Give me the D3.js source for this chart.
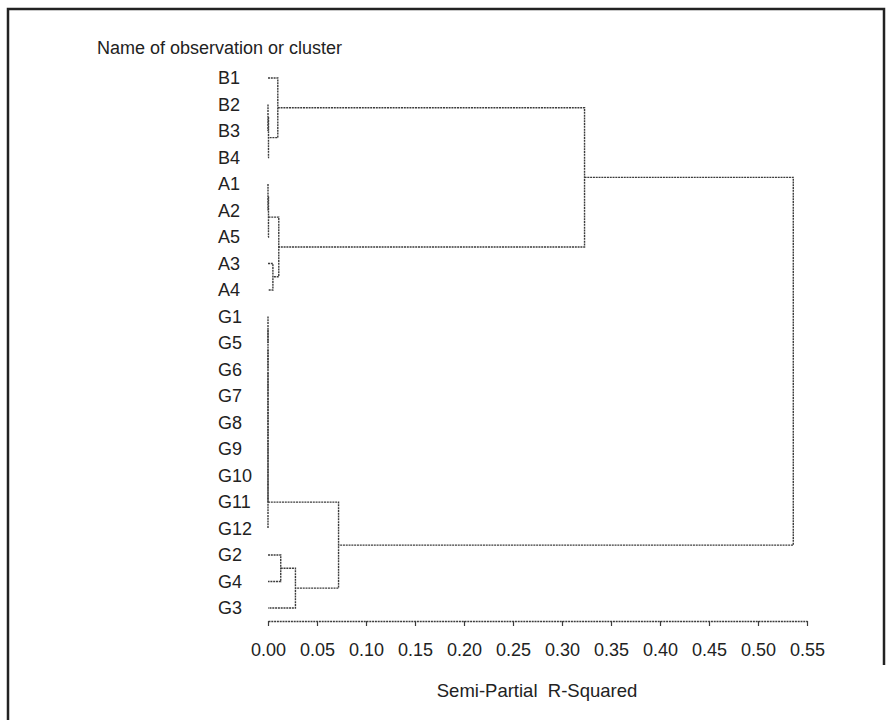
<!DOCTYPE html>
<html>
<head>
<meta charset="utf-8">
<script src="https://cdn.jsdelivr.net/npm/d3@7"></script>
<style>
  html, body { margin: 0; padding: 0; background: #fff; }
  svg { display: block; font-family: "Liberation Sans", Arial, sans-serif; }
</style>
</head>
<body>
<svg id="chart" width="891" height="720"></svg>
<script>
// leaves in the order they are drawn, top to bottom
const leaves = ["B1", "B2", "B3", "B4", "A1", "A2", "A5", "A3", "A4",
  "G1", "G5", "G6", "G7", "G8", "G9", "G10", "G11", "G12", "G2", "G4", "G3"];

// cluster history: joinA + joinB -> joinName at semi-partial R-squared joinHeight
const joinName = ["CL1", "CL2", "CL3", "CL4", "CL5", "CL6", "CL7", "CL8", "CL9", "CL10",
  "CL11", "CL12", "CL13", "CL14", "CL15", "CL16", "CL17", "CL18", "CL19", "CL20"];
const joinA = ["G1", "CL1", "CL2", "CL3", "CL4", "CL5", "CL6", "CL7", "B2", "CL9",
  "A1", "CL11", "A3", "B1", "CL12", "G2", "CL16", "CL8", "CL14", "CL19"];
const joinB = ["G5", "G6", "G7", "G8", "G9", "G10", "G11", "G12", "B3", "B4",
  "A2", "A5", "A4", "CL10", "CL13", "G4", "G3", "CL17", "CL15", "CL18"];
const joinHeight = [0, 0, 0, 0, 0, 0, 0, 0, 0, 0.0005,
  0, 0.0005, 0.005, 0.010, 0.011, 0.013, 0.028, 0.072, 0.323, 0.536];

const tickValues = [0, 0.05, 0.10, 0.15, 0.20, 0.25, 0.30, 0.35, 0.40, 0.45, 0.50, 0.55];

const svg = d3.select("#chart");
const ink = "#222";
const lineCol = "#3c3c3c";
const fs = 18;

const x = d3.scaleLinear().domain([0, 0.55]).range([268, 807]);
const y = d3.scalePoint().domain(leaves).range([78, 608]);

// frame
svg.append("path")
  .attr("d", "M8,720 V9 H884 V665")
  .attr("fill", "none").attr("stroke", ink).attr("stroke-width", 2.5);

// title
svg.append("text")
  .attr("x", 97).attr("y", 54)
  .attr("font-size", fs).attr("fill", ink)
  .text("Name of observation or cluster");

// leaf labels
svg.append("g").selectAll("text")
  .data(leaves)
  .join("text")
    .attr("x", 218)
    .attr("y", (d) => y(d) + 6)
    .attr("font-size", fs).attr("fill", ink)
    .text((d) => d);

// resolve node positions
const pos = {};
leaves.forEach((d) => { pos[d] = { y: y(d), h: 0 }; });
const links = [];
joinName.forEach((name, i) => {
  const a = pos[joinA[i]], b = pos[joinB[i]], h = joinHeight[i];
  links.push({ a, b, h });
  pos[name] = { y: (a.y + b.y) / 2, h };
});

const gTree = svg.append("g")
  .attr("fill", "none")
  .attr("stroke", lineCol)
  .attr("stroke-width", 1.4)
  .attr("stroke-dasharray", "2 0.8");

gTree.selectAll("path")
  .data(links)
  .join("path")
    .attr("d", (l) =>
      "M" + x(l.a.h) + "," + l.a.y +
      "H" + x(l.h) +
      "V" + l.b.y +
      "H" + x(l.b.h));

// axis
const axis = d3.axisBottom(x)
  .tickValues(tickValues)
  .tickFormat(d3.format(".2f"))
  .tickSizeInner(5)
  .tickSizeOuter(0)
  .tickPadding(17);

const gAxis = svg.append("g")
  .attr("transform", "translate(0,621)")
  .call(axis);
gAxis.select(".domain").attr("stroke", lineCol).attr("stroke-width", 1.4).attr("stroke-dasharray", "2 0.8");
gAxis.selectAll(".tick line").attr("stroke", lineCol).attr("stroke-width", 1.2);
gAxis.selectAll(".tick text")
  .attr("font-size", fs)
  .attr("font-family", "Liberation Sans, Arial, sans-serif")
  .attr("fill", ink);

svg.append("text")
  .attr("x", 537).attr("y", 697)
  .attr("text-anchor", "middle")
  .attr("font-size", 18.5).attr("fill", ink)
  .style("white-space", "pre")
  .text("Semi-Partial  R-Squared");
</script>
</body>
</html>
